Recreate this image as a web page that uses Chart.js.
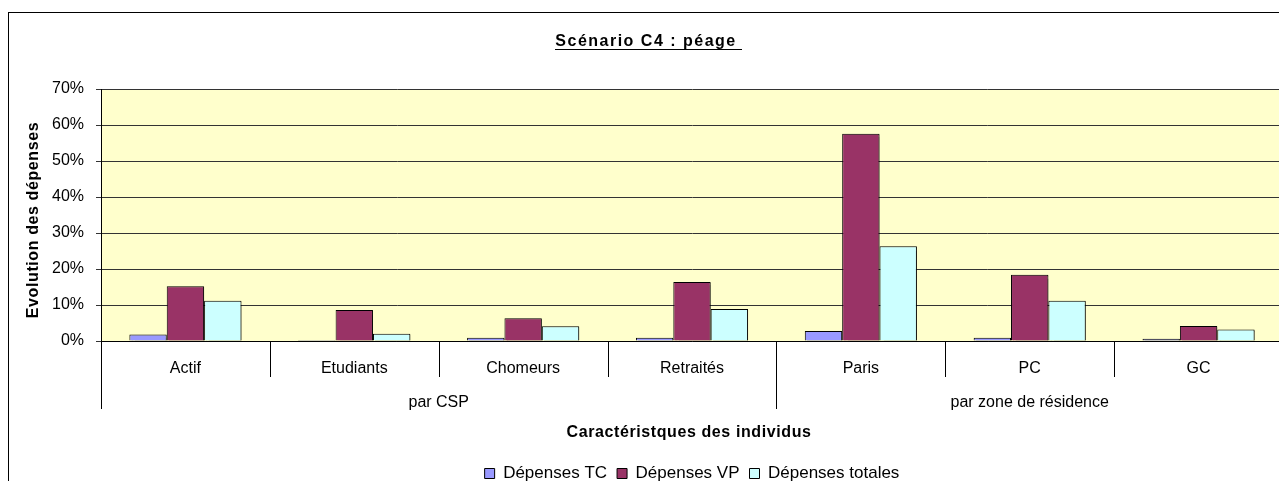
<!DOCTYPE html>
<html lang="fr">
<head>
<meta charset="utf-8">
<title>Scénario C4 : péage</title>
<script src="https://cdn.jsdelivr.net/npm/chart.js@4.4.1/dist/chart.umd.min.js"></script>
<style>
    body { margin: 0; background: #fff; overflow: hidden; }
    #cadre {
        position: absolute;
        left: 8px;
        top: 12px;
        width: 1300px;
        height: 480px;
        border: 1px solid #000;
        background: #fff;
    }
</style>
</head>
<body>
<div id="cadre">
    <canvas id="graphique" width="1300" height="480"></canvas>
</div>
<script>
// categories et groupes de l'axe X
const categories = ['Actif', 'Etudiants', 'Chomeurs', 'Retraités', 'Paris', 'PC', 'GC'];
const groupes = ['par CSP', 'par zone de résidence'];
const tailleGroupes = [4, 3];

// evolution des depenses (%)
const depensesTC = [1.8, 0.3, 0.9, 0.9, 2.8, 0.9, 0.6];
const depensesVP = [15.2, 8.6, 6.3, 16.4, 57.6, 18.4, 4.2];
const depensesTotales = [11.2, 2.0, 4.1, 8.9, 26.3, 11.2, 3.2];

// graduations axe Y
const yMax = 70;
const yPas = 10;

const police = '"Liberation Sans", Arial, sans-serif';

// fond jaune, titres, axe X a deux niveaux
const decor = {
    id: 'decor',
    beforeDraw(chart) {
        const a = chart.chartArea;
        const ctx = chart.ctx;
        ctx.save();
        ctx.fillStyle = '#FFFFCC';
        ctx.fillRect(a.left, a.top, a.right - a.left, a.bottom - a.top);
        ctx.restore();
    },
    beforeDatasetsDraw(chart) {
        // petite ombre sous les barres
        const ctx = chart.ctx;
        ctx.save();
        ctx.shadowColor = 'rgba(0,0,0,0.35)';
        ctx.shadowOffsetX = 2;
        ctx.shadowOffsetY = 1;
        ctx.shadowBlur = 1;
    },
    afterDatasetsDraw(chart) {
        chart.ctx.restore();
    },
    afterDraw(chart) {
        const ctx = chart.ctx;
        const a = chart.chartArea;
        const x = chart.scales.x;
        ctx.save();
        ctx.fillStyle = '#000';
        ctx.strokeStyle = '#000';
        ctx.lineWidth = 1;

        // titre souligne
        ctx.font = 'bold 16px ' + police;
        ctx.letterSpacing = '1.5px';
        ctx.textAlign = 'center';
        ctx.textBaseline = 'alphabetic';
        const titre = 'Scénario C4 : péage ';
        const tx = 640;
        ctx.fillText(titre, tx, 33);
        const w = ctx.measureText(titre).width;
        ctx.fillRect(Math.round(tx - w / 2), 36, Math.round(w), 1);

        // titre axe Y
        ctx.letterSpacing = '0.6px';
        ctx.save();
        ctx.translate(25, (a.top + a.bottom) / 2 + 5);
        ctx.rotate(-Math.PI / 2);
        ctx.textBaseline = 'middle';
        ctx.fillText('Evolution des dépenses', 0, 0);
        ctx.restore();

        // titre axe X
        ctx.textBaseline = 'middle';
        ctx.fillText('Caractéristques des individus', (a.left + a.right) / 2 - 3, a.bottom + 92);
        ctx.letterSpacing = '0px';

        // separateurs des categories
        const bords = [a.left];
        for (let i = 0; i < categories.length - 1; i++) {
            bords.push((x.getPixelForValue(i) + x.getPixelForValue(i + 1)) / 2);
        }
        bords.push(a.right);

        const finGroupes = [0];
        let n = 0;
        tailleGroupes.forEach(function (t) { n += t; finGroupes.push(n); });

        bords.forEach(function (b, i) {
            const long = finGroupes.indexOf(i) >= 0 ? 68 : 36;
            const px = Math.round(b) + 0.5;
            ctx.beginPath();
            ctx.moveTo(px, a.bottom);
            ctx.lineTo(px, a.bottom + long);
            ctx.stroke();
        });

        // libelles des groupes
        ctx.font = '16px ' + police;
        groupes.forEach(function (g, i) {
            const gx = (bords[finGroupes[i]] + bords[finGroupes[i + 1]]) / 2;
            ctx.fillText(g, gx, a.bottom + 62);
        });
        ctx.restore();
    }
};

const ctx = document.getElementById('graphique');

new Chart(ctx, {
    type: 'bar',
    data: {
        labels: categories,
        datasets: [{
            label: 'Dépenses TC',
            data: depensesTC,
            backgroundColor: '#9999FF',
            borderColor: '#000',
            borderWidth: 1
        }, {
            label: 'Dépenses VP',
            data: depensesVP,
            backgroundColor: '#993366',
            borderColor: '#000',
            borderWidth: 1
        }, {
            label: 'Dépenses totales',
            data: depensesTotales,
            backgroundColor: '#CCFFFF',
            borderColor: '#000',
            borderWidth: 1
        }]
    },
    options: {
        responsive: false,
        animation: false,
        categoryPercentage: 0.664,
        barPercentage: 1,
        layout: {
            padding: { top: 76, right: 26, bottom: 1, left: 0 }
        },
        plugins: {
            title: { display: false },
            tooltip: { enabled: false },
            legend: {
                position: 'bottom',
                fullSize: false,
                labels: {
                    color: '#000',
                    font: { family: police, size: 17 },
                    boxWidth: 10,
                    boxHeight: 10,
                    padding: 10
                }
            }
        },
        scales: {
            x: {
                afterFit: function (s) { s.height = 114; },
                grid: { display: true, drawOnChartArea: false, drawTicks: false },
                border: { display: true, color: '#000', width: 1 },
                ticks: {
                    color: '#000',
                    font: { family: police, size: 16 },
                    padding: 18,
                    maxRotation: 0,
                    autoSkip: false
                }
            },
            y: {
                min: 0,
                max: yMax,
                afterFit: function (s) { s.width = 92; },
                grid: { color: '#333', lineWidth: 1, tickLength: 5 },
                border: { display: true, color: '#000', width: 1 },
                ticks: {
                    stepSize: yPas,
                    color: '#000',
                    padding: 12,
                    font: { family: police, size: 16 },
                    callback: function (v) { return v + '%'; }
                }
            }
        }
    },
    plugins: [decor]
});
</script>
</body>
</html>
